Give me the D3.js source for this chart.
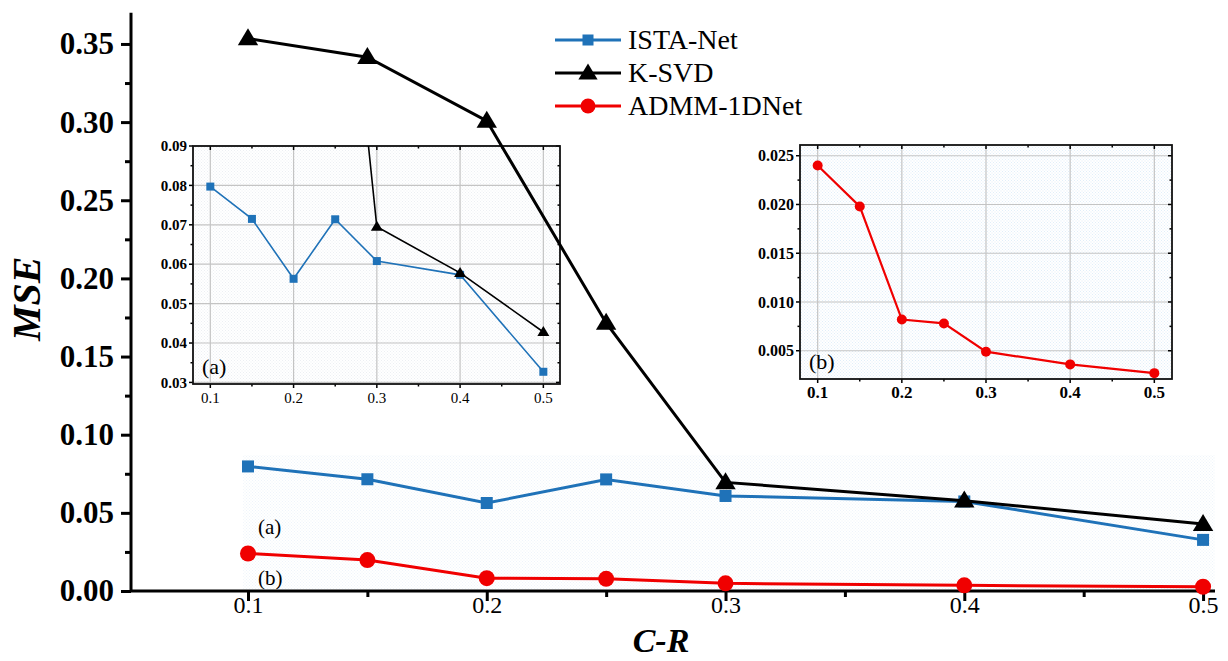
<!DOCTYPE html>
<html>
<head>
<meta charset="utf-8">
<script src="https://cdn.jsdelivr.net/npm/d3@7"></script>
<style>
  html, body { margin: 0; padding: 0; background: #fff; }
  svg { display: block; font-family: "Liberation Serif", "Times New Roman", serif; }
</style>
</head>
<body>
<svg id="chart" width="1228" height="661"></svg>
<script>
// Compression ratio (C-R) values shared by every series
const crValues = [0.1, 0.15, 0.2, 0.25, 0.3, 0.4, 0.5];
// MSE for each method
const istaNet = [0.0797, 0.0715, 0.0563, 0.0714, 0.0608, 0.0573, 0.0327];
const ksvd    = [0.3535, 0.3415, 0.3008, 0.1715, 0.0695, 0.0578, 0.0428];
const admm    = [0.0240, 0.0198, 0.0082, 0.0078, 0.0049, 0.0036, 0.0027];

const seriesNames = ["ISTA-Net", "K-SVD", "ADMM-1DNet"];

// tick labels
const mainYTicks = [0, 0.05, 0.10, 0.15, 0.20, 0.25, 0.30, 0.35];
const mainXTicks = [0.1, 0.2, 0.3, 0.4, 0.5];
const insetATicks = [0.03, 0.04, 0.05, 0.06, 0.07, 0.08, 0.09];
const insetBTicks = [0.005, 0.010, 0.015, 0.020, 0.025];

const BLUE = "#1f72b8", BLACK = "#000", RED = "#f00000";

const svg = d3.select("#chart");
const defs = svg.append("defs");

// faint dotted fills used for the zoomed panels
function dotPattern(id, dot) {
  const p = defs.append("pattern").attr("id", id)
    .attr("width", 3).attr("height", 3).attr("patternUnits", "userSpaceOnUse");
  p.append("rect").attr("width", 3).attr("height", 3).attr("fill", "#fff");
  p.append("rect").attr("width", 1).attr("height", 1).attr("fill", dot);
  p.append("rect").attr("x", 1.5).attr("y", 1.5).attr("width", 1).attr("height", 1).attr("fill", dot);
}
dotPattern("dotsA", "#eceff3");
dotPattern("dotsB", "#e1eef9");
dotPattern("dotsMain", "#eef4fa");

const series = [
  { name: seriesNames[0], values: istaNet, color: BLUE,  shape: "square" },
  { name: seriesNames[1], values: ksvd,    color: BLACK, shape: "triangle" },
  { name: seriesNames[2], values: admm,    color: RED,   shape: "circle" }
];

function drawMarker(g, shape, x, y, size, color) {
  if (shape === "square") {
    g.append("rect").attr("x", x - size / 2).attr("y", y - size / 2)
      .attr("width", size).attr("height", size).attr("fill", color);
  } else if (shape === "triangle") {
    const w = size * 1.2, h = size;
    g.append("path")
      .attr("d", `M${x},${y - h * 0.6}L${x + w / 2},${y + h * 0.4}L${x - w / 2},${y + h * 0.4}Z`)
      .attr("fill", color);
  } else {
    g.append("circle").attr("cx", x).attr("cy", y).attr("r", size / 2).attr("fill", color);
  }
}

// ---------- main chart scales ----------
const x = d3.scaleLinear().domain([0.051, 0.505]).range([131, 1215]);
const y = d3.scaleLinear().domain([0, 0.37]).range([591, 12.7]);

// shaded band marking the magnified regions
svg.append("rect")
  .attr("x", x(0.098)).attr("y", y(0.087))
  .attr("width", x(0.505) - x(0.098)).attr("height", y(0) - y(0.087))
  .attr("fill", "url(#dotsMain)");

svg.append("text").attr("x", x(0.1) + 10).attr("y", 534)
  .attr("font-size", 21).text("(a)");
svg.append("text").attr("x", x(0.1) + 10).attr("y", 585)
  .attr("font-size", 21).text("(b)");

// ---------- main axes ----------
const yAxis = svg.append("g").attr("transform", `translate(${x.range()[0]},0)`)
  .call(d3.axisLeft(y).tickValues(mainYTicks).tickSize(10).tickPadding(7)
    .tickFormat(d3.format(".2f")));
const yMinor = svg.append("g").attr("transform", `translate(${x.range()[0]},0)`)
  .call(d3.axisLeft(y).tickValues(d3.range(0.025, 0.37, 0.05)).tickSize(6).tickFormat(""));
const xAxis = svg.append("g").attr("transform", `translate(0,${y(0)})`)
  .call(d3.axisBottom(x).tickValues(mainXTicks).tickSize(10)
    .tickFormat(d3.format(".1f")));
const xMinor = svg.append("g").attr("transform", `translate(0,${y(0)})`)
  .call(d3.axisBottom(x).tickValues([0.15, 0.25, 0.35, 0.45]).tickSize(6).tickFormat(""));

[yAxis, yMinor, xAxis, xMinor].forEach(a => {
  a.select(".domain").remove();
  a.selectAll(".tick line").attr("stroke", "#000").attr("stroke-width", 3);
});
yAxis.selectAll("text").attr("font-size", 31).attr("font-weight", "bold")
  .attr("font-family", "Liberation Serif").attr("fill", "#000");
xAxis.selectAll("text").attr("font-size", 24).attr("y", 5)
  .attr("font-family", "Liberation Serif").attr("fill", "#000");

svg.append("path")
  .attr("d", `M${x.range()[0]},${y.range()[1]}V${y(0)}H${x.range()[1]}`)
  .attr("fill", "none").attr("stroke", "#000").attr("stroke-width", 3);

svg.append("text").attr("transform", `translate(40,${y(0.187)}) rotate(-90)`)
  .attr("text-anchor", "middle").attr("font-size", 40)
  .attr("font-weight", "bold").attr("font-style", "italic").text("MSE");
svg.append("text").attr("x", 661).attr("y", 652)
  .attr("text-anchor", "middle").attr("font-size", 34)
  .attr("font-weight", "bold").attr("font-style", "italic").text("C-R");

// ---------- inset panels ----------
function inset(opts) {
  const { left, right, top, bottom, xDomain, yDomain, yTicks, yMinorTicks, yFormat,
          fill, xBold, yFont, xFont, label, data, lineWidth, markerSize, id } = opts;
  const g = svg.append("g");
  const ix = d3.scaleLinear().domain(xDomain).range([left, right]);
  const iy = d3.scaleLinear().domain(yDomain).range([bottom, top]);

  g.append("rect").attr("x", left).attr("y", top)
    .attr("width", right - left).attr("height", bottom - top).attr("fill", `url(#${fill})`);

  // grid
  g.selectAll(".vg").data(mainXTicks).join("line")
    .attr("x1", d => ix(d)).attr("x2", d => ix(d)).attr("y1", top).attr("y2", bottom)
    .attr("stroke", "#c4c4c4").attr("stroke-width", 1.2);
  g.selectAll(".hg").data(yTicks).join("line")
    .attr("x1", left).attr("x2", right).attr("y1", d => iy(d)).attr("y2", d => iy(d))
    .attr("stroke", "#c4c4c4").attr("stroke-width", 1.2);

  // ticks: outward on left/bottom, inward on top/right
  const xMinorTicks = [0.15, 0.25, 0.35, 0.45];
  const tk = (sel) => sel.attr("stroke", "#000").attr("stroke-width", 1.5);
  mainXTicks.forEach(d => {
    tk(g.append("line").attr("x1", ix(d)).attr("x2", ix(d)).attr("y1", bottom).attr("y2", bottom + 4));
    tk(g.append("line").attr("x1", ix(d)).attr("x2", ix(d)).attr("y1", top).attr("y2", top + 4));
  });
  xMinorTicks.forEach(d => {
    tk(g.append("line").attr("x1", ix(d)).attr("x2", ix(d)).attr("y1", bottom).attr("y2", bottom + 2.5));
    tk(g.append("line").attr("x1", ix(d)).attr("x2", ix(d)).attr("y1", top).attr("y2", top + 2.5));
  });
  yTicks.forEach(d => {
    tk(g.append("line").attr("x1", left - 4).attr("x2", left).attr("y1", iy(d)).attr("y2", iy(d)));
    tk(g.append("line").attr("x1", right - 4).attr("x2", right).attr("y1", iy(d)).attr("y2", iy(d)));
  });
  yMinorTicks.forEach(d => {
    tk(g.append("line").attr("x1", left - 2.5).attr("x2", left).attr("y1", iy(d)).attr("y2", iy(d)));
    tk(g.append("line").attr("x1", right - 2.5).attr("x2", right).attr("y1", iy(d)).attr("y2", iy(d)));
  });

  g.append("rect").attr("x", left).attr("y", top)
    .attr("width", right - left).attr("height", bottom - top)
    .attr("fill", "none").attr("stroke", "#111").attr("stroke-width", 1.8);

  // tick labels
  g.selectAll(".yl").data(yTicks).join("text")
    .attr("x", left - 6).attr("y", d => iy(d)).attr("dy", "0.35em")
    .attr("text-anchor", "end").attr("font-size", yFont).attr("font-weight", "bold")
    .text(d => d3.format(yFormat)(d));
  g.selectAll(".xl").data(mainXTicks).join("text")
    .attr("x", d => ix(d)).attr("y", bottom + 19)
    .attr("text-anchor", "middle").attr("font-size", xFont)
    .attr("font-weight", xBold ? "bold" : "normal")
    .text(d => d3.format(".1f")(d));

  g.append("text").attr("x", left + 9).attr("y", bottom - 10)
    .attr("font-size", 22).text(label);

  // clipped data
  defs.append("clipPath").attr("id", id).append("rect")
    .attr("x", left).attr("y", top).attr("width", right - left).attr("height", bottom - top);
  const plot = g.append("g").attr("clip-path", `url(#${id})`);
  const line = d3.line().x(d => ix(d[0])).y(d => iy(d[1]));
  data.forEach(s => {
    const pts = crValues.map((c, i) => [c, s.values[i]]);
    plot.append("path").attr("d", line(pts)).attr("fill", "none")
      .attr("stroke", s.color).attr("stroke-width", lineWidth);
    pts.forEach(p => drawMarker(plot, s.shape, ix(p[0]), iy(p[1]),
      markerSize[s.shape], s.color));
  });
}

inset({
  id: "clipA", left: 193, right: 560, top: 146, bottom: 384,
  xDomain: [0.0792, 0.52], yDomain: [0.0296, 0.09],
  yTicks: insetATicks, yMinorTicks: d3.range(0.035, 0.09, 0.01), yFormat: ".2f",
  fill: "dotsA", xBold: false, yFont: 15, xFont: 15, label: "(a)",
  data: [series[0], series[1]], lineWidth: 1.6,
  markerSize: { square: 8, triangle: 10 }
});

inset({
  id: "clipB", left: 800, right: 1172, top: 145, bottom: 379,
  xDomain: [0.079, 0.521], yDomain: [0.0021, 0.0261],
  yTicks: insetBTicks, yMinorTicks: d3.range(0.0075, 0.0251, 0.005), yFormat: ".3f",
  fill: "dotsB", xBold: true, yFont: 16, xFont: 17, label: "(b)",
  data: [series[2]], lineWidth: 2.2,
  markerSize: { circle: 10 }
});

// ---------- main series (drawn above the insets) ----------
const mainLine = d3.line().x(d => x(d[0])).y(d => y(d[1]));
const mainMarker = { square: 12, triangle: 17, circle: 16 };
series.forEach(s => {
  const pts = crValues.map((c, i) => [c, s.values[i]]);
  svg.append("path").attr("d", mainLine(pts)).attr("fill", "none")
    .attr("stroke", s.color).attr("stroke-width", 3);
  const g = svg.append("g");
  pts.forEach(p => drawMarker(g, s.shape, x(p[0]), y(p[1]), mainMarker[s.shape], s.color));
});

// ---------- legend ----------
const legend = svg.append("g");
series.forEach((s, i) => {
  const ly = 40 + i * 33;
  legend.append("line").attr("x1", 555).attr("x2", 621).attr("y1", ly).attr("y2", ly)
    .attr("stroke", s.color).attr("stroke-width", 3);
  drawMarker(legend, s.shape, 588, ly, { square: 11, triangle: 16, circle: 15 }[s.shape], s.color);
  legend.append("text").attr("x", 628).attr("y", ly).attr("dy", "0.33em")
    .attr("font-size", 28).text(s.name);
});
</script>
</body>
</html>
